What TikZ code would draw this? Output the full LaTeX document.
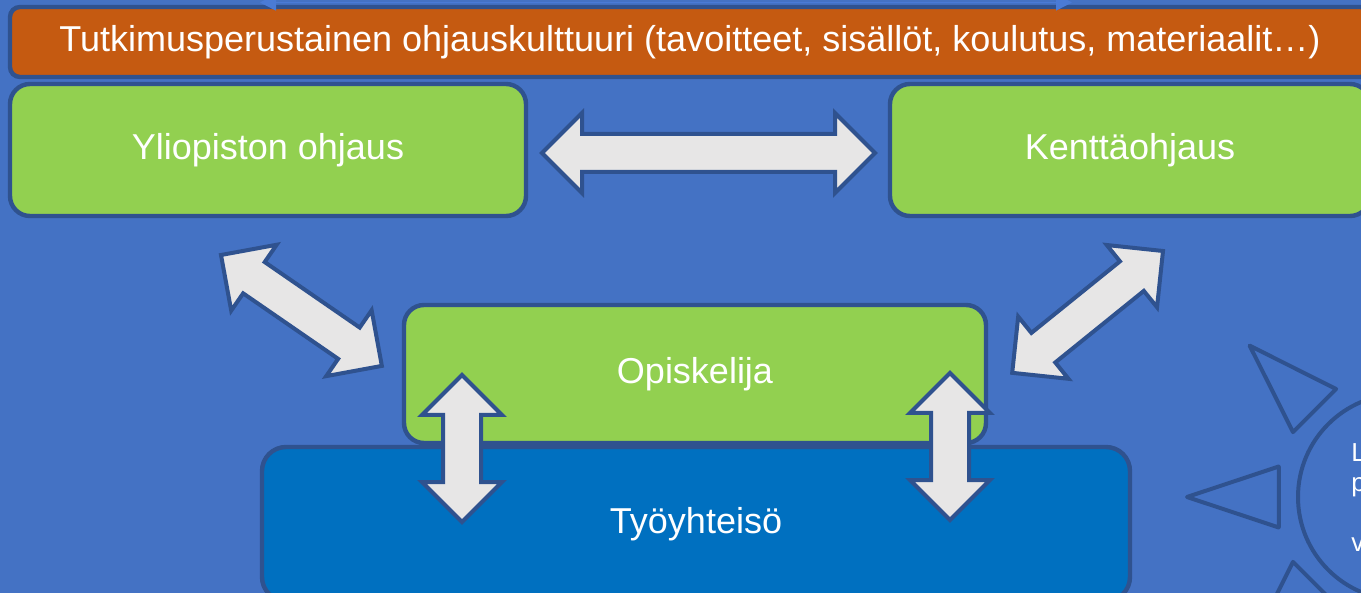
\documentclass[tikz,border=0pt]{standalone}
\usepackage{fontspec}
\setmainfont{Liberation Sans}
\usetikzlibrary{calc,arrows.meta}
\definecolor{bg}{HTML}{4472C4}
\definecolor{edge}{HTML}{2F528F}
\definecolor{leaf}{HTML}{92D050}
\definecolor{rust}{HTML}{C55A11}
\definecolor{sea}{HTML}{0070C0}
\definecolor{pale}{HTML}{E7E6E6}
\definecolor{tipblue}{HTML}{4A7BD6}

% block double arrow from #1 to #2
\newcommand\blockarrow[2]{%
	\path[fat] let \p1=($(#2)-(#1)$), \n1={veclen(\x1,\y1)}, \n2={atan2(\y1,\x1)} in
		[shift={(#1)},rotate=\n2] (0pt,0pt) -- (20pt,20pt) -- (20pt,9.5pt) -- ({\n1-20pt},9.5pt)
		-- ({\n1-20pt},20pt) -- ({\n1+0pt},0pt) -- ({\n1-20pt},-20pt) -- ({\n1-20pt},-9.5pt)
		-- (20pt,-9.5pt) -- (20pt,-20pt) -- cycle;}

\begin{document}
\begin{tikzpicture}[x=0.5pt,y=-0.5pt,
	box/.style={draw=edge,line width=2.2pt,rounded corners=10pt,text=white,font=\fontsize{18}{21}\selectfont},
	fat/.style={draw=edge,fill=pale,line width=2pt,line join=miter},
	ray/.style={draw=edge,line width=2pt,line join=round}]
	\useasboundingbox (0,0) rectangle (1361,593);
	\clip (0,0) rectangle (1361,593);
	\fill[bg] (0,0) rectangle (1361,593);

	\node[box,fill=rust,rounded corners=5pt,minimum width=680pt,minimum height=35pt] (Tk) at (690,42)
		{Tutkimusperustainen ohjauskulttuuri (tavoitteet, sisällöt, koulutus, materiaalit…)};
	\coordinate (t1) at (260,2.5);
	\coordinate (t2) at (1072,2.5);
	\draw[tipblue,line width=0.75pt,{Triangle[length=8pt,width=8pt]}-{Triangle[length=8pt,width=8pt]}] (t1) -- (t2);

	\node[box,fill=leaf,minimum width=258pt,minimum height=66pt] (Yo) at (268,150) {Yliopiston ohjaus};
	\node[box,fill=leaf,minimum width=240pt,minimum height=66pt] (Ke) at (1130,150) {Kenttäohjaus};

	\coordinate (h1) at (542,153);
	\coordinate (h2) at (875,153);
	\coordinate (d1) at (221,255);
	\coordinate (d2) at (382,366);
	\coordinate (d3) at (1163,251);
	\coordinate (d4) at (1012,373);
	\blockarrow{h1}{h2}
	\blockarrow{d1}{d2}
	\blockarrow{d3}{d4}

	\node[box,fill=leaf,minimum width=291pt,minimum height=69pt] (Op) at (695,374) {Opiskelija};
	\node[box,fill=sea,rounded corners=12pt,minimum width=434pt,minimum height=77pt] (Ty) at (696,524) {Työyhteisö};

	\coordinate (v1) at (462,375);
	\coordinate (v2) at (462,522);
	\coordinate (v3) at (950,373);
	\coordinate (v4) at (950,520);
	\blockarrow{v1}{v2}
	\blockarrow{v3}{v4}

	% sun
	\coordinate (S) at (1401,497);
	\draw[ray] (S) circle[radius=103];
	\foreach \a in {0,45,...,315}
		\draw[ray] ($(S)+(\a:107pt)$) -- ($(S)+(\a+14:63pt)$) -- ($(S)+(\a-14:63pt)$) -- cycle;
	\node[text=white,font=\fontsize{13}{15}\selectfont,align=left,anchor=north west,inner sep=0pt] (St) at (1351,443)
		{L\\p\\~\\v};
\end{tikzpicture}
\end{document}
